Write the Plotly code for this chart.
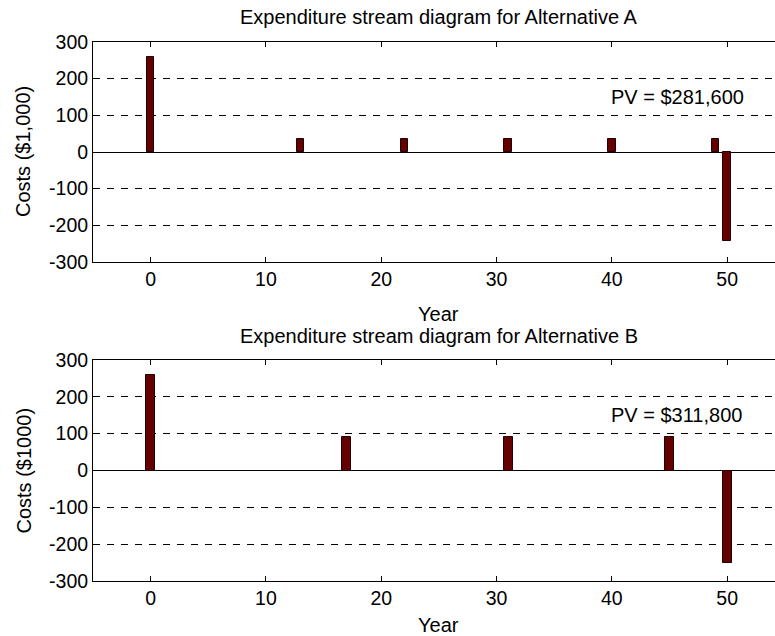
import plotly.graph_objects as go
from plotly.subplots import make_subplots

years_A = [0, 13, 22, 31, 40, 49, 50]
costs_A = [260, 35, 35, 35, 35, 35, -243]
years_B = [0, 17, 31, 45, 50]
costs_B = [260, 90, 90, 90, -250]

titles = ["Expenditure stream diagram for Alternative A",
          "Expenditure stream diagram for Alternative B"]
ylabels = ["Costs ($1,000)", "Costs ($1000)"]
pv_texts = ["PV = $281,600", "PV = $311,800"]
xtick_vals = [0, 10, 20, 30, 40, 50]
ytick_vals = [-300, -200, -100, 0, 100, 200, 300]
ytick_text = ["-300", "-200", "-100", "0", "100", "200", "300"]

FONT = "Liberation Sans, Arial, sans-serif"
FS_T = 20
FS_K = 19.5
W, H = 775, 636
ML, MT, MB = 93, 42, 55

fig = make_subplots(rows=2, cols=1)

fig.add_trace(go.Bar(x=years_A, y=costs_A, width=0.65,
                     marker=dict(color="#640000", line=dict(color="#200000", width=1))),
              row=1, col=1)
fig.add_trace(go.Bar(x=years_B, y=costs_B, width=0.78,
                     marker=dict(color="#640000", line=dict(color="#200000", width=1))),
              row=2, col=1)

plot_h = H - MT - MB
top_dom = [1 - 220 / plot_h, 1]
bot_dom = [0, 1 - (360 - MT) / plot_h]

for i, dom in enumerate([top_dom, bot_dom], start=1):
    fig.update_xaxes(row=i, col=1, range=[-5, 54.15], tickvals=xtick_vals,
                     ticks="inside", ticklen=5, tickcolor="black",
                     showline=True, linecolor="black", linewidth=1, mirror="ticks",
                     showgrid=False, zeroline=False,
                     tickfont=dict(family=FONT, size=FS_K, color="black"))
    fig.update_yaxes(row=i, col=1, range=[-300, 300], domain=dom,
                     tickvals=ytick_vals, ticktext=ytick_text,
                     ticks="inside", ticklen=5, tickcolor="black",
                     showline=True, linecolor="black", linewidth=1, mirror=False,
                     showgrid=True, gridcolor="black", gridwidth=1, griddash="7px,7px",
                     zeroline=True, zerolinecolor="black", zerolinewidth=1,
                     tickfont=dict(family=FONT, size=FS_K, color="black"))

year_shift = [-52, -44]
title_shift = [25, 24]
ann = []
for i in range(2):
    xr = "x" if i == 0 else "x2"
    yr = "y" if i == 0 else "y2"
    ann.append(dict(text=titles[i], x=25, xref=xr, y=1, yref=yr + " domain",
                    yshift=title_shift[i], showarrow=False, xanchor="center", yanchor="middle",
                    font=dict(family=FONT, size=FS_T, color="black")))
    ann.append(dict(text="Year", x=25, xref=xr, y=0, yref=yr + " domain",
                    yshift=year_shift[i], showarrow=False, xanchor="center", yanchor="middle",
                    font=dict(family=FONT, size=FS_T, color="black")))
    ann.append(dict(text=ylabels[i], x=0, xref="paper", xshift=-70, y=0.5,
                    yref=yr + " domain", textangle=-90, showarrow=False,
                    xanchor="center", yanchor="middle",
                    font=dict(family=FONT, size=FS_T, color="black")))
    ann.append(dict(text=pv_texts[i], x=40, xref=xr, y=150, yref=yr,
                    showarrow=False, xanchor="left", yanchor="middle", xshift=-3,
                    font=dict(family=FONT, size=FS_T, color="black")))

fig.update_layout(width=W, height=H, margin=dict(l=ML, r=0, t=MT, b=MB, autoexpand=False),
                  paper_bgcolor="white", plot_bgcolor="white", showlegend=False,
                  bargap=0, annotations=ann)

fig.write_html("out.html")
